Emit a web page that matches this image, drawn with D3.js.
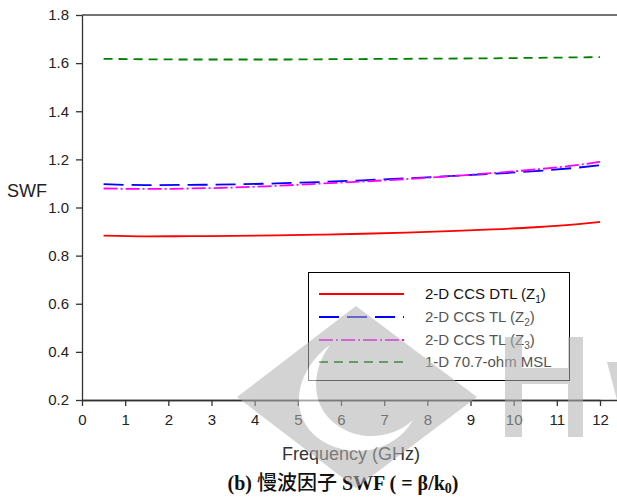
<!DOCTYPE html>
<html>
<head>
<meta charset="utf-8">
<script src="https://cdn.jsdelivr.net/npm/d3@7"></script>
<style>
  body { margin: 0; background: #fff; }
  svg { display: block; }
  .axis text { font-family: Arial, "Liberation Sans", sans-serif; font-size: 15px; fill: #222; }
  .axis path, .axis line { stroke: #333; stroke-width: 1.3; }
</style>
</head>
<body>
<div id="chart"></div>
<script>
var freq = [0.5, 1.5, 2.5, 3.5, 4.5, 5.5, 6.5, 7.5, 8.5, 9.5, 10.5, 11.5, 12];
var z1 = [0.883, 0.880, 0.881, 0.882, 0.884, 0.887, 0.891, 0.896, 0.902, 0.909, 0.918, 0.931, 0.940];
var z2 = [1.097, 1.093, 1.094, 1.096, 1.100, 1.106, 1.113, 1.121, 1.130, 1.140, 1.151, 1.166, 1.176];
var z3 = [1.079, 1.077, 1.079, 1.083, 1.090, 1.099, 1.108, 1.118, 1.130, 1.143, 1.158, 1.177, 1.190];
var msl = [1.618, 1.616, 1.615, 1.615, 1.615, 1.616, 1.617, 1.618, 1.619, 1.620, 1.622, 1.624, 1.625];
var xTickValues = d3.range(0, 13);
var yTickValues = [0.2, 0.4, 0.6, 0.8, 1.0, 1.2, 1.4, 1.6, 1.8];
var seriesNames = ["2-D CCS DTL (Z", "2-D CCS TL (Z", "2-D CCS TL (Z", "1-D 70.7-ohm MSL"];
var seriesSubs = ["1", "2", "3", ""];

var W = 617, H = 500;
var svg = d3.select("#chart").append("svg").attr("width", W).attr("height", H);

var x = d3.scaleLinear().domain([0, 12]).range([82, 600]);
var y = d3.scaleLinear().domain([0.2, 1.8]).range([400, 15]);

var series = [
    {v: z1, color: "#ff0000", dash: null, width: 1.8},
    {v: z2, color: "#0000ff", dash: "20,8", width: 1.8},
    {v: z3, color: "#ff00ff", dash: "14,3,2,3", width: 1.8},
    {v: msl, color: "#008000", dash: "9,6", width: 1.8}
];

// frame: top and bottom lines run past the right crop edge
svg.append("line")
    .attr("x1", 82).attr("x2", W).attr("y1", 15).attr("y2", 15)
    .attr("stroke", "#444").attr("stroke-width", 1.5);
svg.append("line")
    .attr("x1", 82).attr("x2", W).attr("y1", 400.5).attr("y2", 400.5)
    .attr("stroke", "#333").attr("stroke-width", 1.3);

var xAxis = d3.axisBottom(x)
    .tickValues(xTickValues)
    .tickSizeInner(6)
    .tickSizeOuter(0)
    .tickPadding(8)
    .tickFormat(d3.format("d"));

var yAxis = d3.axisLeft(y)
    .tickValues(yTickValues)
    .tickSizeInner(6)
    .tickSizeOuter(0)
    .tickPadding(7)
    .tickFormat(d3.format(".1f"));

svg.append("g")
    .attr("class", "axis axis--x")
    .attr("transform", "translate(0,400)")
    .call(xAxis);

svg.append("g")
    .attr("class", "axis axis--y")
    .attr("transform", "translate(82,0)")
    .call(yAxis);

var line_gen = d3.line()
    .x((d, i) => x(freq[i]))
    .y(d => y(d))
    .curve(d3.curveMonotoneX);

series.forEach(function(s) {
    svg.append("path")
        .attr("d", line_gen(s.v))
        .attr("fill", "none")
        .attr("stroke", s.color)
        .attr("stroke-width", s.width)
        .attr("stroke-dasharray", s.dash);
});

// legend
var lg = svg.append("g").attr("class", "legend");
lg.append("rect")
    .attr("x", 308.5).attr("y", 272.5).attr("width", 261).attr("height", 108)
    .attr("fill", "#fff").attr("stroke", "#000").attr("stroke-width", 1);

var rowY = [294, 317, 340, 362];
series.forEach(function(s, i) {
    lg.append("line")
        .attr("x1", 319).attr("x2", 404)
        .attr("y1", rowY[i]).attr("y2", rowY[i])
        .attr("stroke", s.color)
        .attr("stroke-width", s.width)
        .attr("stroke-dasharray", s.dash);
    var t = lg.append("text")
        .attr("x", 425).attr("y", rowY[i] + 5)
        .attr("font-family", "Arial, 'Liberation Sans', sans-serif")
        .attr("font-size", 15)
        .attr("fill", i == 0 ? "#111" : "#555")
        .text(seriesNames[i]);
    if (seriesSubs[i]) {
        t.append("tspan").attr("font-size", 10).attr("dy", 4).text(seriesSubs[i]);
        t.append("tspan").attr("dy", -4).text(")");
    }
});

// axis titles
svg.append("text")
    .attr("x", 7).attr("y", 197)
    .attr("font-family", "Arial, 'Liberation Sans', sans-serif")
    .attr("font-size", 18).attr("fill", "#222")
    .text("SWF");

svg.append("text")
    .attr("x", 351).attr("y", 460)
    .attr("text-anchor", "middle")
    .attr("font-family", "Arial, 'Liberation Sans', sans-serif")
    .attr("font-size", 18).attr("fill", "#333")
    .text("Frequency (GHz)");

var cap = svg.append("text")
    .attr("x", 343).attr("y", 490)
    .attr("text-anchor", "middle")
    .attr("font-family", "'Liberation Serif', 'Times New Roman', 'Noto Sans CJK TC', serif")
    .attr("font-size", 20).attr("font-weight", "bold").attr("fill", "#111");
cap.append("tspan").text("(b) ");
cap.append("tspan").attr("font-family", "'Noto Sans CJK TC', sans-serif").attr("font-weight", 500).text("慢波因子");
cap.append("tspan").text(" SWF ( = β/k");
cap.append("tspan").attr("font-size", 14).attr("dy", 3).text("0");
cap.append("tspan").attr("dy", -3).text(")");

// watermark overlay
var wm = svg.append("g").attr("opacity", 0.56).attr("pointer-events", "none");
wm.append("path")
    .attr("d", "M356,306 L477,397 L356,488 L237,397 Z")
    .attr("fill", "#b2b2b2");
wm.append("path")
    .attr("d", "M330,345 C293,372 287,420 324,442 C356,460 396,450 413,420 C392,440 358,441 337,425 C311,407 310,372 330,345 Z")
    .attr("fill", "#fff");
wm.append("path")
    .attr("d", "M505,337 H522 V368 H568 V337 H583 V437 H568 V384 H522 V437 H505 Z")
    .attr("fill", "#b2b2b2");
wm.append("path")
    .attr("d", "M607,362 H617 V400 Z")
    .attr("fill", "#b2b2b2");
</script>
</body>
</html>
